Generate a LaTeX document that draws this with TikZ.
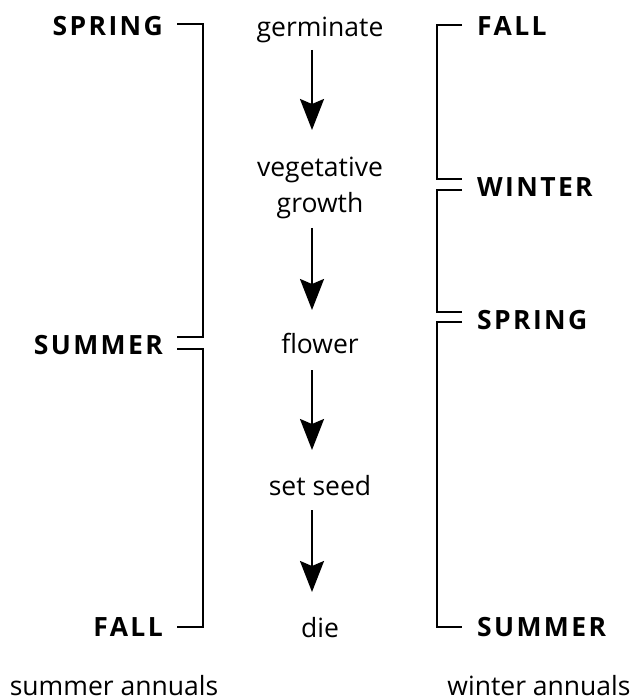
\documentclass[tikz,border=0pt]{standalone}
\usepackage{fontspec}
\setmainfont{Open Sans}
\newfontfamily\capsfont[LetterSpace=9]{Open Sans}
\usetikzlibrary{arrows.meta}
\begin{document}
\begin{tikzpicture}[x=1pt,y=-1pt,
  ctext/.style={font=\fontsize{26.5}{30}\selectfont, inner sep=0pt, anchor=base},
  season/.style={font=\capsfont\bfseries\fontsize{26.5}{30}\selectfont, inner sep=0pt},
  brk/.style={line width=2pt},
  arr/.style={line width=2pt, -{Stealth[length=31pt,width=24pt,inset=5pt]}}]
\useasboundingbox[fill=white] (0,0) rectangle (637,700);

% centre column
\node[ctext] (germ)  at (320,37)  {germinate};
\node[ctext] (veg)   at (320,177) {vegetative};
\node[ctext] (grow)  at (320,213) {growth};
\node[ctext] (flow)  at (320,353) {flower};
\node[ctext] (seed)  at (320,495) {set seed};
\node[ctext] (die)   at (320,637) {die};

\draw[arr] ([xshift=-8pt,yshift=-13pt]germ.base) -- ([xshift=-8pt,yshift=47pt]veg.base);
\draw[arr] ([xshift=-8pt,yshift=-15pt]grow.base) -- ([xshift=-8pt,yshift=43pt]flow.base);
\draw[arr] ([xshift=-8pt,yshift=-17pt]flow.base) -- ([xshift=-8pt,yshift=45pt]seed.base);
\draw[arr] ([xshift=-8pt,yshift=-15pt]seed.base) -- ([xshift=-8pt,yshift=45pt]die.base);

% left: summer annuals
\node[season, anchor=base east] (lspring) at (163,36)  {SPRING};
\node[season, anchor=base east] (lsummer) at (163,354) {SUMMER};
\node[season, anchor=base east] (lfall)   at (163,636) {FALL};

\draw[brk] ([xshift=14pt,yshift=3pt]lspring.east) -- ++(26,0)
           |- ([xshift=14pt,yshift=8pt]lsummer.east);
\draw[brk] ([xshift=14pt,yshift=-4pt]lsummer.east) -- ++(26,0)
           |- ([xshift=14pt,yshift=0pt]lfall.east);

% right: winter annuals
\node[season, anchor=base west] (rfall)   at (477,36)  {FALL};
\node[season, anchor=base west] (rwinter) at (477,197) {WINTER};
\node[season, anchor=base west] (rspring) at (477,329) {SPRING};
\node[season, anchor=base west] (rsummer) at (477,636) {SUMMER};

\draw[brk] ([xshift=-15pt,yshift=1pt]rfall.west) -- ++(-25,0)
           |- ([xshift=-15pt,yshift=9pt]rwinter.west);
\draw[brk] ([xshift=-15pt,yshift=-2pt]rwinter.west) -- ++(-25,0)
           |- ([xshift=-15pt,yshift=8pt]rspring.west);
\draw[brk] ([xshift=-15pt,yshift=-2pt]rspring.west) -- ++(-25,0)
           |- ([xshift=-15pt,yshift=0pt]rsummer.west);

% captions
\node[ctext] (lcap) at (114,695) {summer annuals};
\node[ctext] (rcap) at (539,695) {winter annuals};
\end{tikzpicture}
\end{document}
